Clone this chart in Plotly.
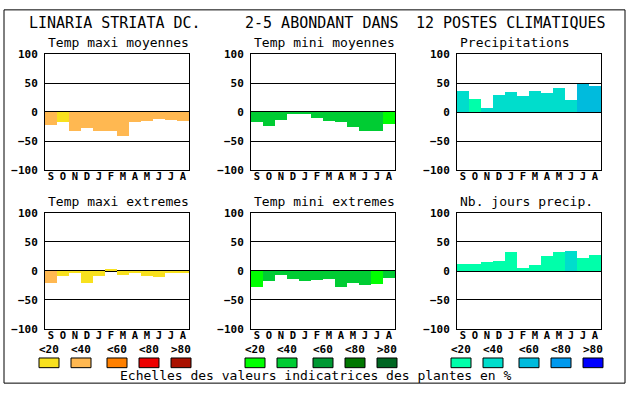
import plotly.graph_objects as go

W, H = 630, 394

months = ["S", "O", "N", "D", "J", "F", "M", "A", "M", "J", "J", "A"]

titles = ["Temp maxi moyennes", "Temp mini moyennes", "Precipitations",
          "Temp maxi extremes", "Temp mini extremes", "Nb. jours precip."]

temp_maxi_moy = [-23, -17, -33, -27, -32, -33, -41, -18, -15, -12, -13, -15]
temp_mini_moy = [-17, -24, -13, -4, -4, -11, -15, -17, -26, -33, -33, -21]
precip = [37, 22, 7, 30, 35, 27, 37, 32, 42, 20, 48, 45]
temp_maxi_ext = [-21, -8, -4, -21, -8, 4, -6, -3, -8, -11, -2, -4]
temp_mini_ext = [-27, -18, -6, -14, -18, -16, -13, -28, -21, -24, -23, -12]
nb_jours = [12, 12, 16, 17, 32, 6, 11, 26, 32, 34, 22, 27]

# indicator class (0: <20, 1: <40, 2: <60, 3: <80, 4: >80)
cls_maxi_moy = [1, 0, 1, 1, 1, 1, 1, 1, 1, 1, 1, 1]
cls_mini_moy = [1, 1, 1, 1, 1, 1, 1, 1, 1, 1, 1, 0]
cls_precip = [1, 0, 1, 1, 1, 1, 1, 1, 1, 1, 2, 2]
cls_maxi_ext = [1, 0, 0, 0, 0, 0, 0, 0, 0, 0, 0, 0]
cls_mini_ext = [0, 1, 1, 1, 1, 1, 1, 1, 1, 1, 0, 1]
cls_nb_jours = [0, 0, 0, 0, 0, 0, 0, 0, 0, 1, 0, 0]

scale_labels = ["<20", "<40", "<60", "<80", ">80"]
reds = ["#F8E11E", "#FFB851", "#FF8000", "#EE0000", "#AA1100"]
greens = ["#00FF00", "#00CC33", "#009933", "#007700", "#006622"]
blues = ["#00FFAA", "#00DDCC", "#00BBDD", "#0099EE", "#0000FF"]

series = [temp_maxi_moy, temp_mini_moy, precip, temp_maxi_ext, temp_mini_ext, nb_jours]
classes = [cls_maxi_moy, cls_mini_moy, cls_precip, cls_maxi_ext, cls_mini_ext, cls_nb_jours]
palettes = [reds, greens, blues, reds, greens, blues]

MONO = "DejaVu Sans Mono"

col_left = [45, 251, 457]
plot_w = 144
row_top = [50, 214]
plot_h = 120

fig = go.Figure()
layout = dict(
    width=W, height=H, margin=dict(l=0, r=0, t=0, b=0), autosize=False,
    paper_bgcolor="white", plot_bgcolor="white",
    showlegend=False, bargap=0,
    font=dict(family=MONO, color="black"),
)
annotations = []
shapes = []

xs = list(range(12))
for i in range(6):
    r, c = divmod(i, 3)
    idx = "" if i == 0 else str(i + 1)
    x0, x1 = col_left[c] / W, (col_left[c] + plot_w) / W
    y1 = 1 - row_top[r] / H
    y0 = 1 - (row_top[r] + plot_h) / H
    colors = [palettes[i][k] for k in classes[i]]
    fig.add_trace(go.Bar(x=xs, y=series[i], width=1, marker=dict(color=colors, line=dict(width=0)),
                         xaxis="x" + idx, yaxis="y" + idx))
    layout["xaxis" + idx] = dict(
        domain=[x0, x1], range=[-0.5, 11.5], anchor="y" + idx,
        tickvals=xs, ticktext=months, ticks="", showgrid=False, zeroline=False,
        showline=True, linecolor="black", linewidth=1, mirror=True,
        tickfont=dict(family=MONO, size=10.5, weight="bold", color="black"),
        ticklabelstandoff=-4,
    )
    layout["yaxis" + idx] = dict(
        domain=[y0, y1], range=[-100, 100], anchor="x" + idx,
        tickvals=[-100, -50, 0, 50, 100], ticks="",
        showgrid=True, gridcolor="black", gridwidth=1,
        zeroline=True, zerolinecolor="black", zerolinewidth=2,
        showline=True, linecolor="black", linewidth=1, mirror=True,
        tickfont=dict(family=MONO, size=11, weight="bold", color="black"),
        ticklabelstandoff=4,
    )
    annotations.append(dict(
        text=titles[i], xref="paper", yref="paper", x=(col_left[c] + 1) / W,
        y=1 - (row_top[r] - 12) / H, xanchor="left", yanchor="middle", showarrow=False,
        font=dict(family=MONO, size=13, color="black"),
    ))
    if r == 1:
        offs = [-6, 26, 62, 94, 126]
        for k in range(5):
            sx = col_left[c] + offs[k]
            annotations.append(dict(
                text=scale_labels[k], xref="paper", yref="paper", x=(sx + 10) / W,
                y=1 - 355 / H, xanchor="center", yanchor="middle", showarrow=False,
                font=dict(family=MONO, size=11, weight="bold", color="black"),
            ))
            shapes.append(dict(
                type="rect", xref="paper", yref="paper",
                x0=sx / W, x1=(sx + 20) / W, y0=1 - 374 / H, y1=1 - 364 / H,
                fillcolor=palettes[i][k], line=dict(color="black", width=1),
            ))

head = [("LINARIA STRIATA DC.", 27), ("2-5 ABONDANT DANS", 243), ("12 POSTES CLIMATIQUES", 414)]
for txt, hx in head:
    annotations.append(dict(
        text=txt, xref="paper", yref="paper", x=hx / W, y=1 - 18 / H,
        xanchor="left", yanchor="middle", showarrow=False,
        font=dict(family=MONO, size=15, color="black"),
    ))
annotations.append(dict(
    text="Echelles des valeurs indicatrices des plantes en %", xref="paper", yref="paper",
    x=316 / W, y=1 - 382 / H, xanchor="center", yanchor="middle", showarrow=False,
    font=dict(family=MONO, size=13, color="black"),
))
shapes.append(dict(type="rect", xref="paper", yref="paper",
                   x0=4 / W, x1=625 / W, y0=1 - 390 / H, y1=1 - 4 / H,
                   line=dict(color="black", width=1)))

layout["annotations"] = annotations
layout["shapes"] = shapes
fig.update_layout(**layout)
fig.write_html("out.html", config={"responsive": False, "displayModeBar": False},
               post_script="document.body.style.margin='0';document.body.style.padding='0';document.body.style.overflow='hidden';")
